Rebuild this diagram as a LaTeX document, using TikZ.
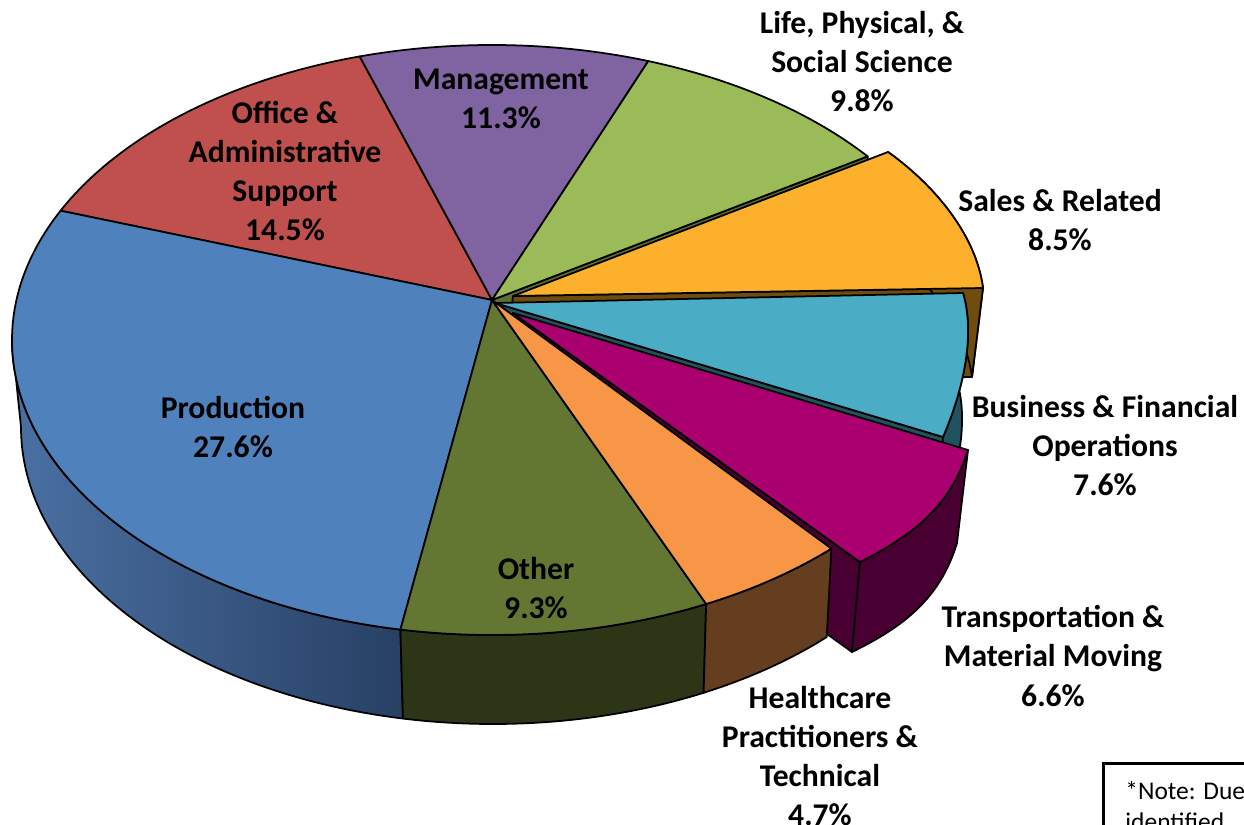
\documentclass[tikz,border=0pt]{standalone}
\usepackage{fontspec}
\setmainfont{Carlito}
\usetikzlibrary{calc}
\definecolor{prodtop}{RGB}{79,129,189}
\definecolor{prodsideL}{RGB}{74,112,163}
\definecolor{prodsideR}{RGB}{40,64,100}
\definecolor{officetop}{RGB}{192,80,77}
\definecolor{mgmttop}{RGB}{128,100,162}
\definecolor{lifetop}{RGB}{155,187,89}
\definecolor{lifeside}{RGB}{92,112,48}
\definecolor{salestop}{RGB}{253,176,44}
\definecolor{salesside}{RGB}{112,76,15}
\definecolor{bustop}{RGB}{75,172,198}
\definecolor{busside}{RGB}{32,82,96}
\definecolor{transtop}{RGB}{170,0,112}
\definecolor{transside}{RGB}{72,0,50}
\definecolor{healthtop}{RGB}{247,150,70}
\definecolor{healthside}{RGB}{100,62,30}
\definecolor{othertop}{RGB}{99,119,50}
\definecolor{otherside}{RGB}{44,54,22}
\begin{document}
\begin{tikzpicture}[x=0.2mm,y=0.2mm,
  top rim/.style={x radius=480,y radius=295},
  low rim/.style={x radius=472,y radius=297},
  edge/.style={draw=black,line width=1pt,line join=round},
  lbl/.style={font=\bfseries\fontsize{18}{22.2}\selectfont,align=center,inner sep=0pt}]
  \useasboundingbox (0,0) rectangle (1244,-825);
  \clip (0,0) rectangle (1244,-825);
  \coordinate (apex) at (492,-300);
  \coordinate (ctr) at (492,-340);
  \coordinate (lowctr) at (493,-427);
  \foreach \a/\n in {180/left,154/office,106/mgmt,71/life,38.5/sales,259/other,296.5/health,315/trans}
    \coordinate (rim\n) at ($(ctr)+(\a:480 and 295)$);
  \foreach \a/\n in {180/left,259/other,296.5/health,315/trans}
    \coordinate (low\n) at ($(lowctr)+(\a:472 and 297)$);
  % back slices
  \path[edge,fill=lifeside] (apex) -- (rimsales) -- ++(0,-89) -- ($(apex)+(0,-89)$) -- cycle;
  \path[edge,fill=officetop] (apex) -- (rimoffice) arc[start angle=154,end angle=106,top rim] -- cycle;
  \path[edge,fill=mgmttop] (apex) -- (rimmgmt) arc[start angle=106,end angle=71,top rim] -- cycle;
  \path[edge,fill=lifetop] (apex) -- (rimlife) arc[start angle=71,end angle=38.5,top rim] -- cycle;
  % exploded slices
  \coordinate (sa) at (513,-296);
  \coordinate (sb) at (888,-152);
  \coordinate (sc) at (983,-288);
  \path[edge,fill=salesside] (sa) -- (sc) -- (972,-377) -- (502,-385) -- cycle;
  \path[edge,fill=salesside] (sb) .. controls (933,-184) and (976,-234) .. (sc)
    -- (972,-377) .. controls (965,-323) and (922,-273) .. (877,-241) -- cycle;
  \path[edge,fill=salestop] (sa) -- (sb) .. controls (933,-184) and (976,-234) .. (sc) -- cycle;
  \coordinate (ba) at (495,-303);
  \coordinate (bb) at (963,-293);
  \coordinate (bc) at (943,-437);
  \path[edge,fill=busside] (ba) -- (bc) -- (937,-525) -- (489,-391) -- cycle;
  \path[edge,fill=busside] (bb) .. controls (976,-337) and (962,-393) .. (bc)
    -- (937,-525) .. controls (956,-481) and (970,-425) .. (957,-381) -- cycle;
  \path[edge,fill=bustop] (ba) -- (bb) .. controls (976,-337) and (962,-393) .. (bc) -- cycle;
  \coordinate (ta) at (513,-313);
  \coordinate (tb) at (968,-450);
  \coordinate (tc) at (860,-562);
  \path[edge,fill=transside] (ta) -- (tc) -- (852,-652) -- (505,-403) -- cycle;
  \path[edge,fill=transside] (tb) .. controls (950,-507) and (913,-535) .. (tc)
    -- (852,-652) .. controls (903,-627) and (940,-599) .. (957,-543) -- cycle;
  \path[edge,fill=transtop] (ta) -- (tb) .. controls (950,-507) and (913,-535) .. (tc) -- cycle;
  % front sides
  \path[edge,left color=prodsideL,right color=prodsideR] (rimleft) arc[start angle=180,end angle=259,top rim]
    -- (lowother) arc[start angle=259,end angle=180,low rim] -- cycle;
  \path[edge,fill=otherside] (rimother) arc[start angle=259,end angle=296.5,top rim]
    -- (lowhealth) arc[start angle=296.5,end angle=259,low rim] -- cycle;
  \path[edge,fill=healthside] (rimhealth) arc[start angle=296.5,end angle=315,top rim]
    -- (lowtrans) arc[start angle=315,end angle=296.5,low rim] -- cycle;
  % front tops
  \path[edge,fill=prodtop] (apex) -- (rimoffice) arc[start angle=154,end angle=259,top rim] -- cycle;
  \path[edge,fill=othertop] (apex) -- (rimother) arc[start angle=259,end angle=296.5,top rim] -- cycle;
  \path[edge,fill=healthtop] (apex) -- (rimhealth) arc[start angle=296.5,end angle=315,top rim] -- cycle;
  % labels
  \node[lbl] (prodlbl) at (233,-427) {Production\\27.6\%};
  \node[lbl] (officelbl) at (285,-171) {Office \&\\Administrative\\Support\\14.5\%};
  \node[lbl] (mgmtlbl) at (501,-99) {Management\\11.3\%};
  \node[lbl] (lifelbl) at (862,-62) {Life, Physical, \&\\Social Science\\9.8\%};
  \node[lbl] (saleslbl) at (1060,-220) {Sales \& Related\\8.5\%};
  \node[lbl] (buslbl) at (1105,-446) {Business \& Financial\\Operations\\7.6\%};
  \node[lbl] (translbl) at (1053,-656) {Transportation \&\\Material Moving\\6.6\%};
  \node[lbl] (healthlbl) at (820,-756) {Healthcare\\Practitioners \&\\Technical\\4.7\%};
  \node[lbl] (otherlbl) at (536,-588) {Other\\9.3\%};
  % note
  \draw[line width=1.7pt] (1103,-763) rectangle (1320,-900);
  \node[anchor=north west,inner sep=0pt,align=left,font=\fontsize{14.5}{17.7}\selectfont] (note) at (1125,-781) {*Note: Due\\identified.};
\end{tikzpicture}
\end{document}
